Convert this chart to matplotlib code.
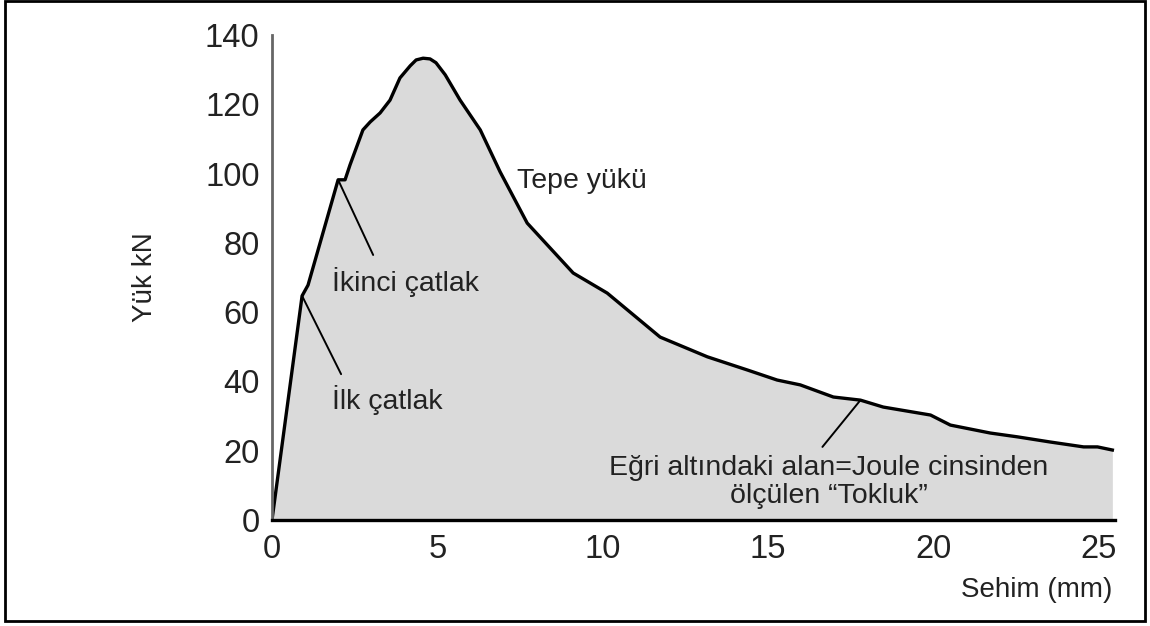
import matplotlib
matplotlib.use("Agg")
import matplotlib.pyplot as plt
from matplotlib.patches import Rectangle

plt.rcParams['font.family'] = ['Liberation Sans', 'DejaVu Sans']

# load-deflection curve
sehim = [0, 0.91, 1.09, 2.00, 2.21, 2.36, 2.75, 2.97, 3.27, 3.57, 3.87, 4.18, 4.36, 4.57,
         4.78, 4.96, 5.24, 5.69, 6.30, 6.90, 7.72, 9.11, 10.14, 11.74, 13.17, 14.38, 15.28,
         15.98, 16.98, 17.80, 18.49, 19.92, 20.52, 21.73, 22.55, 23.55, 24.55, 24.97, 25.42]
yuk = [0, 64.7, 67.8, 98.2, 98.2, 102.5, 112.6, 114.9, 117.5, 121.2, 127.6, 131.1, 132.8, 133.3,
       133.1, 132.0, 128.5, 121.2, 112.6, 100.5, 85.7, 71.3, 65.5, 52.8, 47.1, 43.3, 40.4,
       39.0, 35.5, 34.6, 32.6, 30.3, 27.4, 25.1, 24.0, 22.5, 21.1, 21.1, 20.2]

x_ticks = [0, 5, 10, 15, 20, 25]
y_ticks = [0, 20, 40, 60, 80, 100, 120, 140]

# annotation anchors (index on curve) and leader line ends
ilk_idx, ikinci_idx, tokluk_idx = 1, 3, 29
ilk_end = (2.09, 42.1)
ikinci_end = (3.06, 76.5)
tokluk_end = (16.65, 21.1)

fig = plt.figure(figsize=(11.5, 6.26), dpi=100)
ax = fig.add_axes([272/1150, 1-520/626, 843/1150, 485/626])

ax.fill_between(sehim, yuk, 0, color='#dadada', lw=0)
ax.plot(sehim, yuk, color='black', lw=2.4, solid_joinstyle='round')

ax.set_xlim(0, 25.5)
ax.set_ylim(0, 140)
ax.set_xticks(x_ticks)
ax.set_yticks(y_ticks)
ax.tick_params(axis='both', length=0, labelsize=23.5, colors='#222222')
ax.tick_params(axis='y', pad=9)
ax.tick_params(axis='x', pad=10)

for s in ['top', 'right']:
    ax.spines[s].set_visible(False)
ax.spines['left'].set_color('#666666')
ax.spines['left'].set_linewidth(2)
ax.spines['bottom'].set_color('black')
ax.spines['bottom'].set_linewidth(2.4)
ax.spines['bottom'].set_zorder(5)

ax.set_ylabel('Yük kN', fontsize=20, color='#222222', va='center', ha='center')
ax.yaxis.set_label_coords(-0.1507, 0.501)
ax.set_xlabel('Sehim (mm)', fontsize=20, color='#222222', ha='right', va='center')
ax.xaxis.set_label_coords(0.9964, -0.1443)

lp = dict(arrowstyle='-', color='black', lw=1.4, shrinkA=0, shrinkB=0)
ax.annotate('', xy=(sehim[ilk_idx], yuk[ilk_idx]), xytext=ilk_end, arrowprops=lp)
ax.annotate('', xy=(sehim[ikinci_idx], yuk[ikinci_idx]), xytext=ikinci_end, arrowprops=lp)
ax.annotate('', xy=(sehim[tokluk_idx], yuk[tokluk_idx]), xytext=tokluk_end, arrowprops=lp)

fs = 20.5
ax.text(7.42, 97.9, 'Tepe yükü', fontsize=fs, color='#222222', ha='left', va='center')
ax.text(1.82, 68.7, 'İkinci çatlak', fontsize=fs, color='#222222', ha='left', va='center')
ax.text(1.82, 34.6, 'İlk çatlak', fontsize=fs, color='#222222', ha='left', va='center')
ax.text(16.83, 11.0, 'Eğri altındaki alan=Joule cinsinden\nölçülen “Tokluk”', fontsize=fs,
        color='#222222', ha='center', va='center', multialignment='center', linespacing=1.1)

fig.patches.append(Rectangle((5/1150, 1-621/626), 1140/1150, 620/626,
                             transform=fig.transFigure, fill=False, lw=2, ec='black'))

fig.savefig('out.png', dpi=100)
